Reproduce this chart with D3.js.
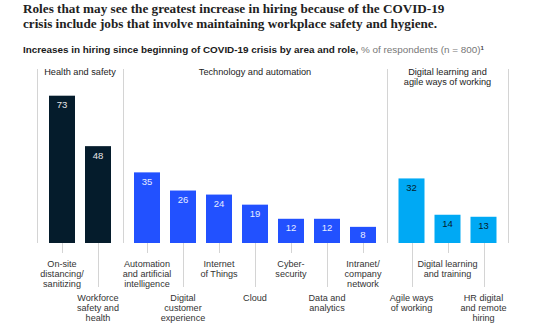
<!DOCTYPE html>
<html>
<head>
<meta charset="utf-8">
<script src="https://cdn.jsdelivr.net/npm/d3@7"></script>
<style>
  html, body { margin: 0; padding: 0; background: #fff; }
  svg { display: block; }
  text { font-family: "Liberation Sans", Arial, sans-serif; }
</style>
</head>
<body>
<svg id="chart"></svg>
<script>
// Data.
const titleLines = [
    "Roles that may see the greatest increase in hiring because of the COVID-19",
    "crisis include jobs that involve maintaining workplace safety and hygiene."
];
const subtitleBold = "Increases in hiring since beginning of COVID-19 crisis by area and role,";
const subtitleRest = " % of respondents (n = 800)";

const groups = [
    ["Health and safety"],
    ["Technology and automation"],
    ["Digital learning and", "agile ways of working"]
];
const roles = [
    ["On-site", "distancing/", "sanitizing"],
    ["Workforce", "safety and", "health"],
    ["Automation", "and artificial", "intelligence"],
    ["Digital", "customer", "experience"],
    ["Internet", "of Things"],
    ["Cloud"],
    ["Cyber-", "security"],
    ["Data and", "analytics"],
    ["Intranet/", "company", "network"],
    ["Agile ways", "of working"],
    ["Digital learning", "and training"],
    ["HR digital", "and remote", "hiring"]
];
const roleGroup = [0, 0, 1, 1, 1, 1, 1, 1, 1, 2, 2, 2];
const values = [73, 48, 35, 26, 24, 19, 12, 12, 8, 32, 14, 13];

// Styles
const barColors = ["#051c2c", "#2251ff", "#00a9f4"];
const labelColors = ["#e6e6e6", "#e8ecff", "#051c2c"];

const width = 554, height = 334;
const svg = d3.select("#chart").attr("width", width).attr("height", height);

// Layout: group dividers and the bar baseline.
const dividers = [37, 123, 387, 508],
    baseY = 243,
    topY = 69;

const y = d3.scaleLinear().domain([0, 73]).range([baseY, 95.7]);

// One band scale per group so the groups keep their own gutters.
const bars = values.map((v, i) => ({ i: i, value: v, group: roleGroup[i], lines: roles[i] }));
const xScales = groups.map((g, gi) => {
    const ids = bars.filter(d => d.group == gi).map(d => d.i),
        mid = (dividers[gi] + dividers[gi + 1]) / 2,
        w = ids.length * 36 - 10;
    return d3.scaleBand().domain(ids).range([mid - w / 2, mid + w / 2]).paddingInner(10 / 36);
});
const xOf = d => xScales[d.group](d.i);
const bw = xScales[0].bandwidth();

// Title
svg.append("g")
    .selectAll("text")
    .data(titleLines)
    .enter()
    .append("text")
    .attr("x", 23)
    .attr("y", (d, i) => 13 + i * 14.5)
    .style("font-family", "'Liberation Serif', serif")
    .style("font-weight", "bold")
    .style("font-size", "13.2px")
    .attr("fill", "#222")
    .text(d => d);

// Subtitle
const sub = svg.append("text")
    .attr("x", 23)
    .attr("y", 53)
    .style("font-size", "9.9px")
    .attr("fill", "#1a1a1a");
sub.append("tspan").style("font-weight", "bold").text(subtitleBold);
sub.append("tspan").attr("fill", "#777").text(subtitleRest);
sub.append("tspan").attr("fill", "#444").attr("dy", -3).style("font-size", "6px").style("font-weight", "bold").text("1");

// Group dividers
svg.append("g")
    .selectAll("line")
    .data(dividers)
    .enter()
    .append("line")
    .attr("x1", d => d + 0.5)
    .attr("x2", d => d + 0.5)
    .attr("y1", topY)
    .attr("y2", baseY)
    .attr("stroke", "#d4d4d4")
    .attr("stroke-width", 1);

// Group headers
svg.append("g")
    .selectAll("text")
    .data(groups)
    .enter()
    .append("text")
    .attr("x", (d, i) => (dividers[i] + dividers[i + 1]) / 2)
    .attr("y", 75)
    .attr("text-anchor", "middle")
    .style("font-size", "9.2px")
    .attr("fill", "#222")
    .selectAll("tspan")
    .data(d => d)
    .enter()
    .append("tspan")
    .attr("x", function() { return this.parentNode.getAttribute("x"); })
    .attr("dy", (d, i) => i == 0 ? 0 : 10)
    .text(d => d);

// Tick lines under each bar, alternating short and long.
const tickEnd = i => i % 2 == 0 ? 253 : 287;
svg.append("g")
    .selectAll("line")
    .data(bars)
    .enter()
    .append("line")
    .attr("x1", d => Math.round(xOf(d) + bw / 2) + 0.5)
    .attr("x2", d => Math.round(xOf(d) + bw / 2) + 0.5)
    .attr("y1", baseY)
    .attr("y2", d => tickEnd(d.i))
    .attr("stroke", "#d4d4d4")
    .attr("stroke-width", 1);

// Bars
svg.append("g")
    .selectAll("rect")
    .data(bars)
    .enter()
    .append("rect")
    .attr("x", d => xOf(d))
    .attr("y", d => y(d.value))
    .attr("width", bw)
    .attr("height", d => baseY - y(d.value))
    .attr("fill", d => barColors[d.group]);

// Value labels inside the bars
svg.append("g")
    .selectAll("text")
    .data(bars)
    .enter()
    .append("text")
    .attr("x", d => xOf(d) + bw / 2)
    .attr("y", d => Math.min(y(d.value) + 12.5, (y(d.value) + baseY) / 2 + 3.5))
    .attr("text-anchor", "middle")
    .style("font-size", "9.5px")
    .attr("fill", d => labelColors[d.group])
    .text(d => d.value);

// Role labels below the ticks
svg.append("g")
    .selectAll("text")
    .data(bars)
    .enter()
    .append("text")
    .attr("x", d => xOf(d) + bw / 2)
    .attr("y", d => tickEnd(d.i) + 14)
    .attr("text-anchor", "middle")
    .style("font-size", "9.1px")
    .attr("fill", "#333")
    .selectAll("tspan")
    .data(d => d.lines)
    .enter()
    .append("tspan")
    .attr("x", function() { return this.parentNode.getAttribute("x"); })
    .attr("dy", (d, i) => i == 0 ? 0 : 10)
    .text(d => d);
</script>
</body>
</html>
